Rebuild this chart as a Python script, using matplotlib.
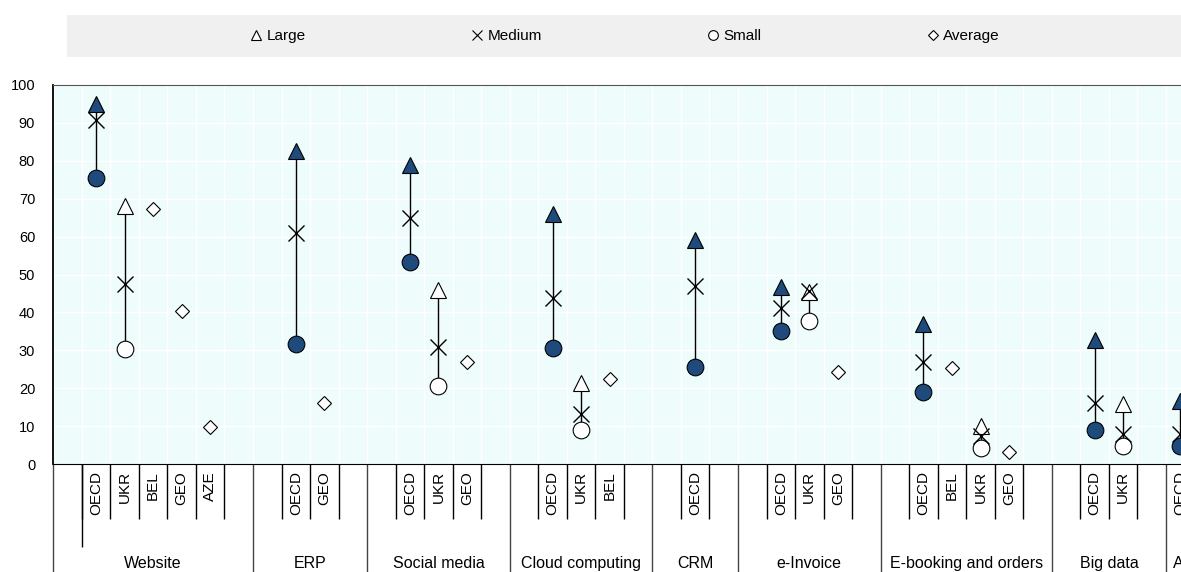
import numpy as np
import matplotlib.pyplot as plt
from matplotlib.lines import Line2D
from matplotlib.patches import Rectangle

plt.rcParams['font.family'] = ['Liberation Sans', 'DejaVu Sans']

nan = np.nan

# группы (второй уровень оси) и слоты категорий, пустые строки - пустые слоты
groups = ["Website", "ERP", "Social media", "Cloud computing", "CRM",
          "e-Invoice", "E-booking and orders", "Big data", "AI"]
group_slots = [
    ["", "OECD", "UKR", "BEL", "GEO", "AZE", ""],
    ["", "OECD", "GEO", ""],
    ["", "OECD", "UKR", "GEO", ""],
    ["", "OECD", "UKR", "BEL", ""],
    ["", "OECD", ""],
    ["", "OECD", "UKR", "GEO", ""],
    ["", "OECD", "BEL", "UKR", "GEO", ""],
    ["", "OECD", "UKR", ""],
    ["OECD"],
]

# значения в порядке непустых слотов
large = [95.0, 68.0, nan, nan, nan,
         82.5, nan,
         78.8, 45.8, nan,
         65.9, 21.4, nan,
         59.0,
         46.8, 45.5, nan,
         36.9, nan, 10.0, nan,
         32.6, 15.9,
         16.6]
medium = [90.8, 47.5, nan, nan, nan,
          61.0, nan,
          65.0, 31.0, nan,
          43.9, 13.3, nan,
          46.9,
          41.1, 45.7, nan,
          26.8, nan, 7.4, nan,
          16.2, 8.0,
          8.0]
small = [75.5, 30.4, nan, nan, nan,
         31.7, nan,
         53.3, 20.6, nan,
         30.6, 9.0, nan,
         25.7,
         35.1, 37.6, nan,
         19.0, nan, 4.1, nan,
         9.0, 4.7,
         4.7]
average = [nan, nan, 67.2, 40.3, 9.8,
           nan, 16.2,
           nan, nan, 26.8,
           nan, nan, 22.3,
           nan,
           nan, nan, 24.2,
           nan, 25.3, nan, 3.2,
           nan, nan,
           nan]

navy = "#1F4A7C"
W, H = 1181, 572
x_left, y_top, y_bot = 53.3, 85, 464
slot_px = 28.53

fig = plt.figure(figsize=(W / 100, H / 100), dpi=100)
ax = fig.add_axes([x_left / W, 1 - y_bot / H, 1 - x_left / W, (y_bot - y_top) / H])
ax.set_facecolor("#EFFCFC")

# позиции слотов
centers, labels, short_b, sep_b, g_centers = [], [], [], [], []
slot = 0
for slots in group_slots:
    sep_b.append(slot)
    for j, lab in enumerate(slots):
        if j > 0:
            short_b.append(slot + j)
        if lab:
            centers.append(slot + j + 0.5)
            labels.append(lab)
    g_centers.append(slot + len(slots) / 2)
    slot += len(slots)

xs = np.array(centers)
large = np.array(large)
medium = np.array(medium)
small = np.array(small)
average = np.array(average)
is_oecd = np.array([l == "OECD" for l in labels])

# соединительные линии small -> large
has = ~np.isnan(large)
ax.vlines(xs[has], small[has], large[has], color="black", lw=1, zorder=2)

for mask, fc in [(is_oecd, navy), (~is_oecd, "white")]:
    ax.plot(xs[mask], large[mask], ls="none", marker="^", ms=12,
            mfc=fc, mec="black", mew=0.8, zorder=3)
    ax.plot(xs[mask], small[mask], ls="none", marker="o", ms=12,
            mfc=fc, mec="black", mew=0.8, zorder=3)
ax.plot(xs, medium, ls="none", marker="x", ms=12, mec="black", mew=1.0, zorder=4)
ax.plot(xs, average, ls="none", marker="D", ms=7.6, mfc="white",
        mec="black", mew=0.8, zorder=3)

# сетка и оси
ax.set_yticks(np.arange(0, 101, 10))
ax.set_xticks(xs)
ax.set_xticklabels(labels, rotation=90, fontsize=11)
ax.set_xticks(sorted(set(short_b + sep_b)), minor=True)
ax.tick_params(axis="both", which="both", length=0)
ax.tick_params(axis="y", labelsize=10.5, pad=13)
ax.tick_params(axis="x", pad=5)
ax.grid(which="minor", axis="x", color="white", lw=1)
ax.grid(which="major", axis="y", color="white", lw=1)
ax.set_axisbelow(True)
ax.spines["right"].set_visible(False)
ax.spines["left"].set_color("black")
ax.spines["left"].set_linewidth(1.3)
ax.spines["bottom"].set_color("black")
ax.spines["top"].set_color("#555555")

# линии многоуровневой оси
tr = ax.get_xaxis_transform()
ax.vlines(short_b, -(519 - y_bot) / (y_bot - y_top), 0, transform=tr,
          color="black", lw=1, clip_on=False)
ax.vlines(short_b[0], -(547 - y_bot) / (y_bot - y_top), 0, transform=tr,
          color="black", lw=1, clip_on=False)
ax.vlines(sep_b, -0.35, 0, transform=tr, color="#444444", lw=1, clip_on=False)
for gx, g in zip(g_centers, groups):
    ax.text(gx, -(556 - y_bot) / (y_bot - y_top), g, transform=tr,
            ha="center", va="top", fontsize=11.5, clip_on=False)

ax.set_xlim(0, (W - x_left) / slot_px)
ax.set_ylim(0, 100)

# легенда
fig.patches.append(Rectangle((67 / W, 1 - 57 / H), (W - 67) / W, 42 / H,
                             transform=fig.transFigure, facecolor="#F0F0F0",
                             edgecolor="none", zorder=0))
handles = [
    Line2D([], [], ls="none", marker="^", ms=7, mfc="white", mec="black", mew=0.8),
    Line2D([], [], ls="none", marker="x", ms=7, mec="black", mew=0.8),
    Line2D([], [], ls="none", marker="o", ms=7, mfc="white", mec="black", mew=0.8),
    Line2D([], [], ls="none", marker="D", ms=5, mfc="white", mec="black", mew=0.8),
]
fig.legend(handles, ["Large", "Medium", "Small", "Average"], ncol=4,
           loc="center", bbox_to_anchor=(624 / W, 1 - 36 / H), frameon=False,
           fontsize=11, handlelength=1.0, handletextpad=0.2, columnspacing=10.7)

fig.savefig("out.png", dpi=100)
